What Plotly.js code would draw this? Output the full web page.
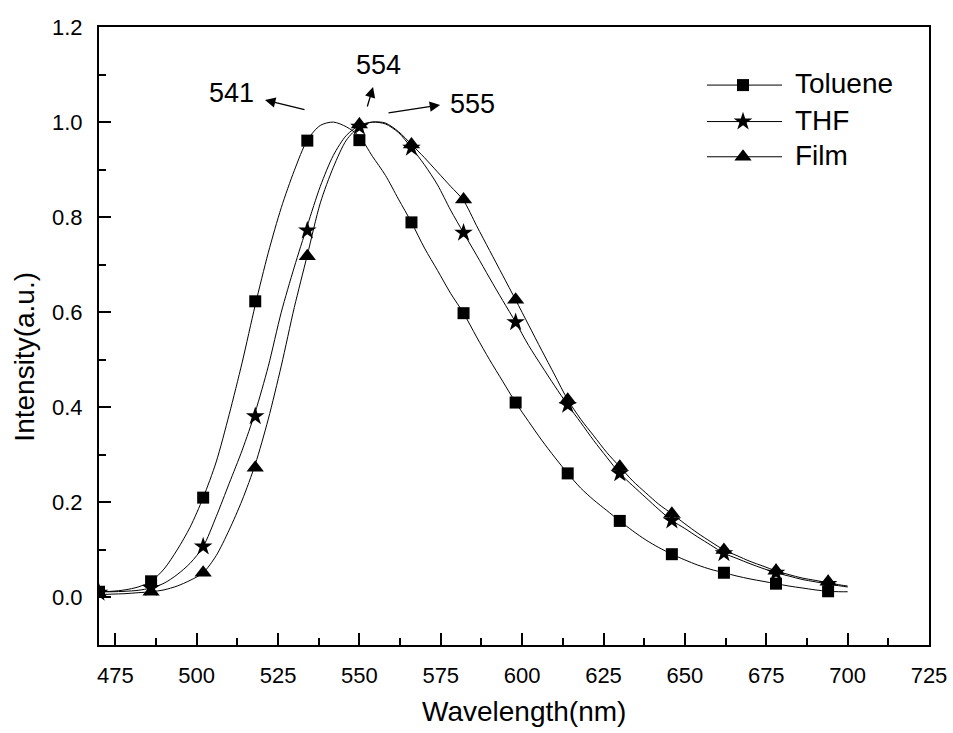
<!DOCTYPE html>
<html><head><meta charset="utf-8">
<script src="https://cdn.plot.ly/plotly-3.0.1.min.js"></script>
<style>html,body{margin:0;padding:0;background:#fff}#chart{width:953px;height:733px}</style>
</head><body><div id="chart"></div>
<script>
// Continuous spectra (wavelength in nm)
const wavelength = [470,474,478,482,486,490,494,498,502,506,510,514,518,522,526,530,534,538,542,546,550,554,558,562,566,570,574,578,582,586,590,594,598,602,606,610,614,618,622,626,630,634,638,642,646,650,654,658,662,666,670,674,678,682,686,690,694,698,700];
const tolueneCurve = [0.012,0.013,0.016,0.022,0.034,0.06,0.1,0.148,0.21,0.285,0.385,0.495,0.615,0.725,0.82,0.898,0.962,0.993,1.0,0.99,0.97,0.928,0.888,0.838,0.789,0.735,0.688,0.64,0.598,0.548,0.5,0.455,0.41,0.37,0.331,0.295,0.261,0.23,0.205,0.183,0.161,0.14,0.121,0.105,0.091,0.079,0.068,0.059,0.052,0.045,0.039,0.034,0.029,0.024,0.02,0.016,0.013,0.012,0.012];
const thfCurve = [0.012,0.012,0.013,0.015,0.02,0.03,0.048,0.072,0.107,0.17,0.24,0.31,0.39,0.486,0.6,0.695,0.782,0.865,0.93,0.972,0.993,1.0,0.996,0.978,0.946,0.91,0.868,0.815,0.767,0.72,0.672,0.625,0.579,0.53,0.487,0.445,0.405,0.368,0.33,0.295,0.261,0.235,0.21,0.185,0.162,0.145,0.127,0.11,0.093,0.082,0.071,0.061,0.052,0.045,0.038,0.033,0.028,0.024,0.022];
const filmCurve = [0.006,0.007,0.008,0.01,0.012,0.016,0.024,0.036,0.052,0.088,0.142,0.205,0.28,0.375,0.487,0.61,0.72,0.83,0.905,0.962,0.99,1.0,0.998,0.98,0.953,0.925,0.895,0.865,0.835,0.782,0.73,0.678,0.626,0.573,0.52,0.468,0.416,0.375,0.34,0.305,0.275,0.245,0.22,0.196,0.176,0.155,0.135,0.117,0.1,0.088,0.076,0.066,0.056,0.048,0.041,0.036,0.031,0.026,0.024];

// Symbol positions
const markerWavelength = [470,486,502,518,534,550,566,582,598,614,630,646,662,678,694];
const tolueneMarkers = [0.012,0.034,0.21,0.623,0.961,0.962,0.789,0.598,0.41,0.261,0.161,0.091,0.052,0.029,0.013];
const thfMarkers = [0.01,0.02,0.107,0.381,0.772,0.99,0.946,0.767,0.579,0.405,0.261,0.162,0.093,0.052,0.028];
const filmMarkers = [0.008,0.012,0.052,0.273,0.718,0.995,0.953,0.837,0.626,0.416,0.275,0.176,0.1,0.056,0.033];

const seriesNames = ['Toluene','THF','Film'];
const xTickVals = [475,500,525,550,575,600,625,650,675,700,725];
const yTickVals = [0.0,0.2,0.4,0.6,0.8,1.0,1.2];

// Peak labels
const peakLabels = ['541','554','555'];
const peakTextX = [510.8,555.8,584.9];
const peakTextY = [1.061,1.1195,1.038];
const arrowHeadX = [521.0,554.2,574.8];
const arrowHeadY = [1.0464,1.0738,1.0359];
const arrowTailX = [533.6,552.3,558.5];
const arrowTailY = [1.0254,1.0296,1.0191];

const FONT = '"Liberation Sans", Arial, Helvetica, sans-serif';
const symbols = ['square','star','triangle-up'];
const sizes = [12,14,15];
const curves = [tolueneCurve, thfCurve, filmCurve];
const markers = [tolueneMarkers, thfMarkers, filmMarkers];

const traces = [];
for (let i = 0; i < 3; i++) {
  traces.push({x: wavelength, y: curves[i], mode: 'lines', line: {color: '#000', width: 1, shape: 'spline', smoothing: 0.8},
    showlegend: false, hoverinfo: 'skip'});
  traces.push({x: markerWavelength, y: markers[i], mode: 'markers', name: seriesNames[i],
    marker: {symbol: symbols[i], size: sizes[i], color: '#000', line: {width: 0}}, showlegend: false});
}
// custom legend on overlay axes (0..1 of the plot area)
const legX0 = 0.7325, legX1 = 0.8229, legXm = 0.7759;
const legRows = [0.906, 0.847, 0.790];
for (let i = 0; i < 3; i++) {
  traces.push({x: [legX0, legX1], y: [legRows[i], legRows[i]], xaxis: 'x2', yaxis: 'y2', mode: 'lines',
    line: {color: '#000', width: 1}, showlegend: false, hoverinfo: 'skip'});
  traces.push({x: [legXm], y: [legRows[i]], xaxis: 'x2', yaxis: 'y2', mode: 'markers',
    marker: {symbol: symbols[i], size: sizes[i], color: '#000', line: {width: 0}}, showlegend: false, hoverinfo: 'skip'});
}

const annotations = [];
for (let i = 0; i < 3; i++) {
  annotations.push({x: peakTextX[i], y: peakTextY[i], xref: 'x', yref: 'y', text: peakLabels[i], showarrow: false,
    xanchor: 'center', yanchor: 'middle', font: {family: FONT, size: 27, color: '#000'}});
  annotations.push({x: arrowHeadX[i], y: arrowHeadY[i], ax: arrowTailX[i], ay: arrowTailY[i], xref: 'x', yref: 'y',
    axref: 'x', ayref: 'y', text: '', showarrow: true, arrowhead: 2, arrowsize: 1.6, arrowwidth: 1.3, arrowcolor: '#000'});
  annotations.push({x: 0.836, y: legRows[i] + 0.0025, xref: 'paper', yref: 'paper', text: seriesNames[i], showarrow: false,
    xanchor: 'left', yanchor: 'middle', font: {family: FONT, size: 28, color: '#000'}});
}
annotations.push({x: 0.512, y: -0.108, xref: 'paper', yref: 'paper', text: 'Wavelength(nm)', showarrow: false,
  xanchor: 'center', yanchor: 'middle', font: {family: FONT, size: 28, color: '#000'}});
annotations.push({x: -0.0908, y: 0.466, xref: 'paper', yref: 'paper', text: 'Intensity(a.u.)', showarrow: false, textangle: -90,
  xanchor: 'center', yanchor: 'middle', font: {family: FONT, size: 28, color: '#000'}});

const axisCommon = {showline: true, linecolor: '#000', linewidth: 2, mirror: true, showgrid: false, zeroline: false,
  ticks: 'inside', ticklen: 12, tickwidth: 2, tickcolor: '#000', tickfont: {family: FONT, size: 22, color: '#000'}};

const layout = {
  width: 953, height: 733,
  margin: {l: 99, r: 24, t: 27, b: 88},
  paper_bgcolor: '#fff', plot_bgcolor: '#fff',
  showlegend: false,
  font: {family: FONT, color: '#000'},
  xaxis: Object.assign({}, axisCommon, {range: [470, 725], tickmode: 'array', tickvals: xTickVals,
    ticktext: xTickVals.map(String), ticklabelstandoff: 10,
    minor: {ticks: 'inside', ticklen: 7, tickwidth: 2, tickcolor: '#000', tick0: 462.5, dtick: 12.5, showgrid: false}}),
  yaxis: Object.assign({}, axisCommon, {range: [-0.1, 1.2], tickmode: 'array', tickvals: yTickVals,
    ticktext: yTickVals.map(v => v.toFixed(1)), ticklabelstandoff: 10,
    minor: {ticks: 'inside', ticklen: 7, tickwidth: 2, tickcolor: '#000', tick0: -0.1, dtick: 0.1, showgrid: false}}),
  xaxis2: {overlaying: 'x', anchor: 'y2', range: [0, 1], visible: false, fixedrange: true},
  yaxis2: {overlaying: 'y', anchor: 'x2', range: [0, 1], visible: false, fixedrange: true},
  annotations: annotations
};

Plotly.newPlot('chart', traces, layout, {staticPlot: true, displayModeBar: false});
</script></body></html>
